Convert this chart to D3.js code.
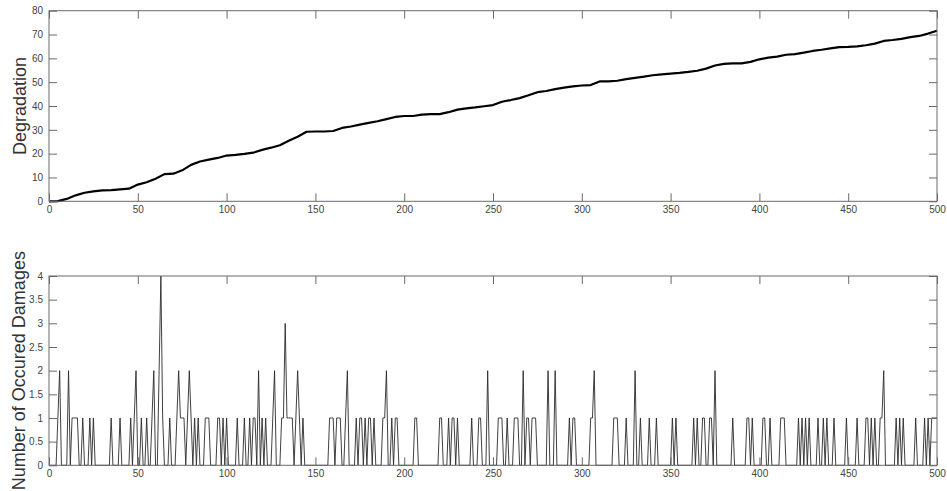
<!DOCTYPE html>
<html>
<head>
<meta charset="utf-8">
<script src="https://cdn.jsdelivr.net/npm/d3@7"></script>
<style>
  html, body { margin: 0; padding: 0; background: #fff; }
  svg { display: block; font-family: "Liberation Sans", Arial, Helvetica, sans-serif; }
</style>
</head>
<body>
<svg id="chart" width="947" height="491"></svg>
<script>
// Degradation level, sampled every 5 time steps (t = 0, 5, ..., 500)
const degradationStep = 5;
const degradation = [
  0, 0.1, 1.0, 2.5, 3.6, 4.2, 4.6, 4.7, 5.0, 5.3,
  7.0, 8.0, 9.5, 11.4, 11.6, 13.0, 15.3, 16.7, 17.5, 18.2,
  19.2, 19.5, 19.9, 20.4, 21.6, 22.5, 23.5, 25.4, 27.1, 29.2,
  29.3, 29.3, 29.5, 30.8, 31.4, 32.2, 32.9, 33.6, 34.5, 35.4,
  35.8, 35.8, 36.4, 36.6, 36.6, 37.4, 38.5, 39.0, 39.4, 39.9,
  40.4, 41.8, 42.5, 43.3, 44.5, 45.8, 46.3, 47.1, 47.7, 48.2,
  48.6, 48.8, 50.3, 50.3, 50.6, 51.3, 51.8, 52.3, 52.9, 53.3,
  53.6, 53.9, 54.3, 54.8, 55.7, 57.0, 57.7, 57.9, 57.9, 58.5,
  59.6, 60.3, 60.7, 61.5, 61.8, 62.4, 63.1, 63.6, 64.2, 64.7,
  64.8, 65.0, 65.5, 66.2, 67.3, 67.7, 68.2, 68.9, 69.4, 70.4,
  71.6
];

// Number of damages occurring at each time step t = 0 .. 500
const damages = [
  0,0,0,0,0,1,2,0,0,0, 0,2,0,1,1,1,1,0,0,1, 0,0,0,1,0,1,0,0,0,0, 0,0,0,0,0,1,0,0,0,0, 1,0,0,0,0,0,1,0,1,2,
  0,0,1,0,0,1,0,0,1,2, 0,0,2,4,1,0,0,0,1,0, 0,0,1,2,1,1,1,0,1,2, 1,0,1,0,1,0,0,0,1,1, 1,0,0,0,0,1,1,0,1,0,
  1,0,0,0,0,0,1,0,0,0, 1,0,0,1,0,1,1,0,2,0, 1,0,1,0,0,0,1,2,0,0, 0,1,1,3,1,1,1,1,0,1, 2,1,0,1,0,0,0,0,0,0,
  0,0,0,0,0,0,0,0,1,1, 1,0,1,1,1,0,0,1,2,0, 0,0,0,1,0,1,1,0,1,0, 1,1,0,1,0,0,0,0,1,1, 2,0,0,1,0,1,1,0,0,0,
  0,0,0,0,0,0,1,1,0,0, 0,0,0,0,0,0,0,0,0,0, 1,1,0,0,0,1,0,1,1,0, 1,0,0,0,0,0,0,0,1,0, 0,0,1,1,0,0,0,2,0,0,
  0,0,0,1,1,1,0,0,1,0, 0,0,1,1,1,0,0,2,0,1, 1,0,1,1,1,0,0,0,0,0, 0,2,0,0,0,2,0,0,0,0, 0,0,0,1,0,1,1,0,0,0,
  0,0,0,0,0,1,1,2,0,0, 0,0,0,0,0,0,0,0,1,1, 1,0,0,0,0,1,0,0,0,0, 2,0,0,1,0,0,0,0,1,0, 0,0,1,0,0,0,0,0,0,0,
  0,1,0,1,0,0,0,0,0,0, 0,0,0,1,0,1,0,0,1,1, 0,0,1,1,0,2,0,0,0,0, 0,0,0,0,0,1,0,0,0,0, 0,0,0,1,1,0,1,0,0,0,
  0,0,1,1,0,0,1,0,0,0, 0,0,1,1,1,0,0,0,0,0, 0,0,1,0,1,0,1,0,1,0, 0,0,0,1,0,0,1,0,1,0, 0,0,1,0,0,0,0,0,0,1,
  0,0,0,0,0,1,0,0,0,0, 1,1,0,1,0,1,0,0,1,1, 2,0,0,0,0,0,0,1,0,1, 0,1,0,0,0,0,0,0,1,0, 0,0,0,1,0,1,0,1,1,1,
  1
];

const xTicks = [0, 50, 100, 150, 200, 250, 300, 350, 400, 450, 500];
const degradationTicks = [0, 10, 20, 30, 40, 50, 60, 70, 80];
const damageTicks = [0, 0.5, 1, 1.5, 2, 2.5, 3, 3.5, 4];

const svg = d3.select("#chart");
const left = 49, right = 937;
const tickLen = 8;
const axisColor = "#6a6a6a";
const textColor = "#444";

function drawPanel(g, x, y, yTicks, yLabel, labelX) {
  const [y0, y1] = y.range();
  const [x0, x1] = x.range();

  // bottom axis with inward ticks and labels
  g.append("g")
    .attr("transform", `translate(0,${y0})`)
    .call(d3.axisBottom(x).tickValues(xTicks).tickSizeInner(-tickLen).tickSizeOuter(0).tickPadding(5).tickFormat(d3.format("d")));
  // top axis ticks
  g.append("g")
    .attr("transform", `translate(0,${y1})`)
    .call(d3.axisTop(x).tickValues(xTicks).tickSizeInner(-tickLen).tickSizeOuter(0).tickFormat(""));
  // left axis
  g.append("g")
    .attr("transform", `translate(${x0},0)`)
    .call(d3.axisLeft(y).tickValues(yTicks).tickSizeInner(-tickLen).tickSizeOuter(0).tickPadding(6).tickFormat(d => String(d)));
  // right axis ticks
  g.append("g")
    .attr("transform", `translate(${x1},0)`)
    .call(d3.axisRight(y).tickValues(yTicks).tickSizeInner(-tickLen).tickSizeOuter(0).tickFormat(""));

  g.selectAll(".domain").remove();
  g.selectAll(".tick line").attr("stroke", axisColor).attr("stroke-width", 1);
  g.selectAll(".tick text").attr("fill", textColor).style("font-size", "10px")
    .style("font-family", "'Liberation Sans', Arial, sans-serif");

  // frame
  g.append("rect")
    .attr("x", x0).attr("y", y1)
    .attr("width", x1 - x0).attr("height", y0 - y1)
    .attr("fill", "none").attr("stroke", axisColor).attr("stroke-width", 1);

  g.append("text")
    .attr("transform", `translate(${labelX},${(y0 + y1) / 2}) rotate(-90)`)
    .attr("text-anchor", "middle")
    .attr("fill", "#333")
    .style("font-size", "18px")
    .text(yLabel);
}

// ---- Degradation panel ----
const xTop = d3.scaleLinear().domain([0, 500]).range([left, right]);
const yTop = d3.scaleLinear().domain([0, 80]).range([201.3, 10.7]);
const gTop = svg.append("g");

gTop.append("path")
  .datum(degradation)
  .attr("fill", "none")
  .attr("stroke", "#000")
  .attr("stroke-width", 2.2)
  .attr("stroke-linejoin", "round")
  .attr("d", d3.line().x((d, i) => xTop(i * degradationStep)).y(d => yTop(d)));

drawPanel(gTop, xTop, yTop, degradationTicks, "Degradation", 25.5);

// ---- Damages panel ----
const xBot = d3.scaleLinear().domain([0, 500]).range([left, right]);
const yBot = d3.scaleLinear().domain([0, 4]).range([465.3, 276]);
const gBot = svg.append("g");

gBot.append("path")
  .datum(damages)
  .attr("fill", "none")
  .attr("stroke", "#2a2a2a")
  .attr("stroke-width", 0.9)
  .attr("d", d3.line().x((d, i) => xBot(i)).y(d => yBot(d)));

drawPanel(gBot, xBot, yBot, damageTicks, "Number of Occured Damages", 25);
</script>
</body>
</html>
